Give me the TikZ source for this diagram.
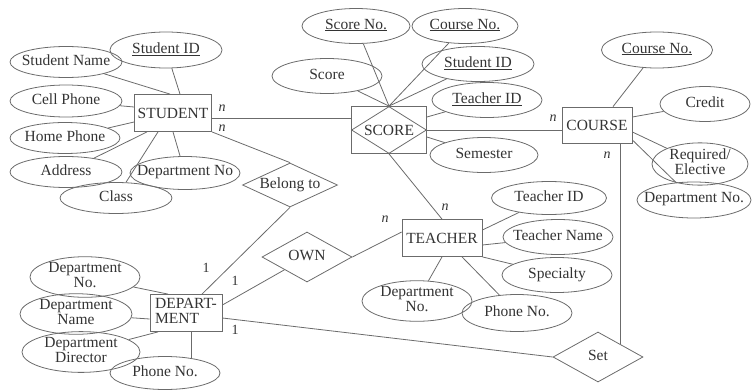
\documentclass[tikz,border=0pt]{standalone}
\usepackage{fontspec}
\setmainfont{Liberation Serif}
\usetikzlibrary{shapes.geometric}
\definecolor{lc}{gray}{0.42}
\definecolor{tc}{gray}{0.2}
\newcommand\tx[1]{\makebox[0pt]{\begin{tabular}{@{}c@{}}#1\end{tabular}}}
\begin{document}
\begin{tikzpicture}[x=1pt,y=-1pt,
  every node/.style={font=\fontsize{15.5}{14}\selectfont, text=tc},
  attr/.style={ellipse, draw=lc, line width=0.8pt, inner sep=0pt, minimum height=35pt},
  ent/.style={rectangle, draw=lc, line width=0.8pt, inner sep=1pt},
  rel/.style={diamond, draw=lc, line width=0.8pt, inner sep=0pt},
  lnk/.style={draw=lc, line width=0.8pt},
  card/.style={font=\fontsize{14}{14}\selectfont\itshape, text=tc},
  one/.style={font=\fontsize{14}{14}\selectfont, text=tc}]
\useasboundingbox (0,0) rectangle (752,391);
% entities
\node[ent, minimum width=77pt, minimum height=37pt] (student) at (173,113) {STUDENT};
\node[ent, minimum width=75pt, minimum height=47pt] (score) at (389,130) {SCORE};
\node[rel, minimum width=75pt, minimum height=47pt] (scoredia) at (389,130) {};
\node[ent, minimum width=70pt, minimum height=36pt] (course) at (597,125) {COURSE};
\node[ent, minimum width=80pt, minimum height=37pt] (teacher) at (442,238) {TEACHER};
\node[ent, minimum width=72pt, minimum height=37pt] (dept) at (186,313) {\begin{tabular}{@{}l@{}}DEPART-\\MENT\end{tabular}};
% relationships
\node[rel, minimum width=95pt, minimum height=44pt] (belong) at (290,185) {\tx{Belong to}};
\node[rel, minimum width=90pt, minimum height=50pt] (own) at (307,257) {\tx{OWN}};
\node[rel, minimum width=90pt, minimum height=50pt] (set) at (598,357) {\tx{Set}};
% student attributes
\node[attr, minimum width=112pt, minimum height=36pt] (s_id) at (166,50) {\tx{\underline{Student ID}}};
\node[attr, minimum width=112pt, minimum height=31pt] (s_name) at (66,62) {\tx{Student Name}};
\node[attr, minimum width=112pt, minimum height=32pt] (s_cell) at (66,101) {\tx{Cell Phone}};
\node[attr, minimum width=110pt, minimum height=31pt] (s_home) at (65,138) {\tx{Home Phone}};
\node[attr, minimum width=112pt, minimum height=31pt] (s_addr) at (66,172) {\tx{Address}};
\node[attr, minimum width=112pt, minimum height=31pt] (s_class) at (116,198) {\tx{Class}};
\node[attr, minimum width=110pt, minimum height=33pt] (s_dept) at (185,173) {\tx{Department No}};
% score attributes
\node[attr, minimum width=108pt] (c_sno) at (356,26) {\tx{\underline{Score No.}}};
\node[attr, minimum width=106pt] (c_cno) at (465,26) {\tx{\underline{Course No.}}};
\node[attr, minimum width=110pt] (c_score) at (327,76) {\tx{Score}};
\node[attr, minimum width=112pt] (c_sid) at (478,64) {\tx{\underline{Student ID}}};
\node[attr, minimum width=110pt] (c_tid) at (487,100) {\tx{\underline{Teacher ID}}};
\node[attr, minimum width=108pt] (c_sem) at (484,155) {\tx{Semester}};
% course attributes
\node[attr, minimum width=111pt, minimum height=36pt] (o_cno) at (657,50) {\tx{\underline{Course No.}}};
\node[attr, minimum width=90pt] (o_credit) at (705,104) {\tx{Credit}};
\node[attr, minimum width=96pt] (o_req) at (700,164) {\tx{Required/\\Elective}};
\node[attr, minimum width=114pt, minimum height=36pt] (o_dept) at (694,200) {\tx{Department No.}};
% teacher attributes
\node[attr, minimum width=115pt, minimum height=33pt] (t_tid) at (549,198) {\tx{Teacher ID}};
\node[attr, minimum width=110pt] (t_name) at (558,237) {\tx{Teacher Name}};
\node[attr, minimum width=110pt] (t_spec) at (557,275) {\tx{Specialty}};
\node[attr, minimum width=110pt, minimum height=37pt] (t_phone) at (517,313) {\tx{Phone No.}};
\node[attr, minimum width=110pt, minimum height=38pt] (t_dept) at (417,301) {\tx{Department\\No.}};
% department attributes
\node[attr, minimum width=110pt, minimum height=34pt] (d_no) at (85,277) {\tx{Department\\No.}};
\node[attr, minimum width=112pt] (d_name) at (76,314) {\tx{Department\\Name}};
\node[attr, minimum width=118pt] (d_dir) at (81,352) {\tx{Department\\Director}};
\node[attr, minimum width=110pt, minimum height=33pt] (d_phone) at (165,373) {\tx{Phone No.}};
% cardinalities
\node[card] (n1) at (222,108) {n};
\node[card] (n2) at (222,128) {n};
\node[card] (n3) at (553,118) {n};
\node[card] (n4) at (607,155) {n};
\node[card] (n5) at (385,219) {n};
\node[card] (n6) at (445,207) {n};
\node[one] (o1) at (206,268) {1};
\node[one] (o2) at (235,281) {1};
\node[one] (o3) at (235,330) {1};
% student links
\draw[lnk] (s_id) -- ([xshift=7pt]student.north);
\draw[lnk] (s_name) -- ([xshift=-3pt]student.north);
\draw[lnk] (s_cell) -- ([yshift=6pt]student.west);
\draw[lnk] (s_home) -- ([yshift=-9pt]student.west);
\draw[lnk] (s_addr) -- ([xshift=-26pt]student.south);
\draw[lnk] (s_class) -- ([xshift=-15pt]student.south);
\draw[lnk] (s_dept) -- (student.south);
% relationships links
\draw[lnk] ([yshift=-5pt]student.east) -- ([yshift=-5pt]student.east -| score.west);
\draw[lnk] (student.south east) -- (belong.north);
\draw[lnk] (belong.south) -- ([xshift=16pt]dept.north);
\draw[lnk] ([yshift=8pt]dept.east) -- (own);
\draw[lnk] (own.east) -- ([yshift=6pt]teacher.west);
\draw[lnk] (scoredia.south) -- (teacher.north);
\draw[lnk] (score.east) -- (score.east -| course.west);
\draw[lnk] (set.north east) -- (set.north east |- course.south);
\draw[lnk] ([yshift=-5pt]dept.east) -- (set.west);
% score links
\draw[lnk] (c_sno) -- (scoredia.north);
\draw[lnk] (c_cno) -- (scoredia.north);
\draw[lnk] (c_score) -- (scoredia.north);
\draw[lnk] (c_sid) -- (scoredia.north);
\draw[lnk] (c_tid) -- ([yshift=13pt]score.east);
\draw[lnk] (c_sem) -- ([yshift=-7pt]score.east);
% course links
\draw[lnk] (o_cno) -- ([xshift=16pt]course.north);
\draw[lnk] (o_credit) -- ([yshift=8pt]course.east);
\draw[lnk] (o_req) -- ([yshift=-7pt]course.east);
\draw[lnk] (o_dept) -- ([yshift=-15pt]course.east);
% teacher links
\draw[lnk] (t_tid) -- ([yshift=8pt]teacher.east);
\draw[lnk] (t_name) -- ([yshift=-7pt]teacher.east);
\draw[lnk] (t_spec) -- (teacher.south east);
\draw[lnk] (t_dept) -- (teacher.south);
\draw[lnk] (t_phone) -- ([xshift=20pt]teacher.south);
% department links
\draw[lnk] (d_no) -- ([xshift=-18pt]dept.north);
\draw[lnk] (d_name) -- ([yshift=-6pt]dept.west);
\draw[lnk] (d_dir) -- ([xshift=-28pt]dept.south);
\draw[lnk] (d_phone.29) -- (d_phone.29 |- dept.south);
\end{tikzpicture}
\end{document}
